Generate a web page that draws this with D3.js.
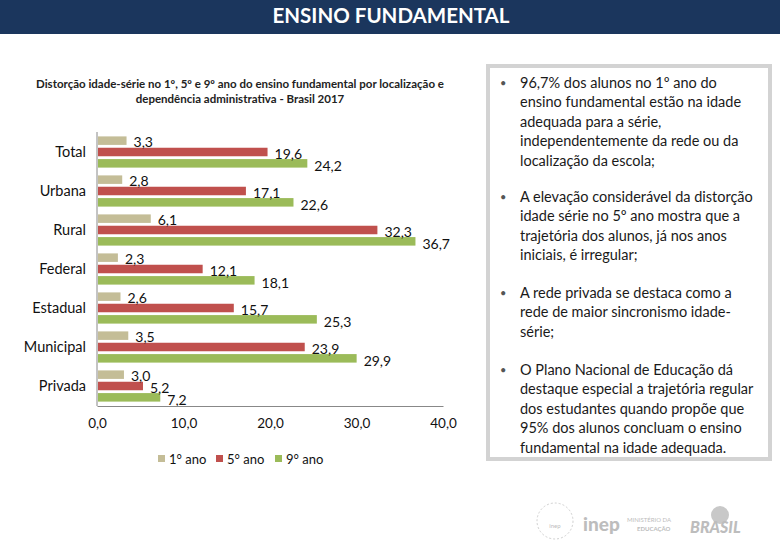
<!DOCTYPE html>
<html>
<head>
<meta charset="utf-8">
<script src="https://cdn.jsdelivr.net/npm/d3@7"></script>
<style>
  body { margin: 0; background: #fff; }
  svg { display: block; font-family: Lato, "Liberation Sans", sans-serif; }
</style>
</head>
<body>
<div id="chart"></div>
<script>
const categories = ["Total", "Urbana", "Rural", "Federal", "Estadual", "Municipal", "Privada"];
const seriesNames = ["1° ano", "5° ano", "9° ano"];
const ano1 = [3.3, 2.8, 6.1, 2.3, 2.6, 3.5, 3.0];
const ano5 = [19.6, 17.1, 32.3, 12.1, 15.7, 23.9, 5.2];
const ano9 = [24.2, 22.6, 36.7, 18.1, 25.3, 29.9, 7.2];
const xTicks = [0, 10, 20, 30, 40];
const colors = ["#c4bd97", "#c0504d", "#9bbb59"];

const bullets = [
  ["96,7% dos alunos no 1º ano do", "ensino fundamental estão na idade", "adequada para a série,", "independentemente da rede ou da", "localização da escola;"],
  ["A elevação considerável da distorção", "idade série no 5º ano mostra que a", "trajetória dos alunos, já nos anos", "iniciais, é irregular;"],
  ["A rede privada se destaca como a", "rede de maior sincronismo idade-", "série;"],
  ["O Plano Nacional de Educação dá", "destaque especial a trajetória regular", "dos estudantes quando propõe que", "95% dos alunos concluam o ensino", "fundamental na idade adequada."]
];

const W = 780, H = 540;
const svg = d3.select("#chart").append("svg").attr("width", W).attr("height", H);

// header band
svg.append("rect").attr("x", 0).attr("y", 0).attr("width", W).attr("height", 34).attr("fill", "#1b365d");
svg.append("text").attr("x", 391).attr("y", 23).attr("text-anchor", "middle")
  .attr("fill", "#fff").style("font-size", "20.5px").style("font-weight", "bold")
  .text("ENSINO FUNDAMENTAL");

// chart title
const title = svg.append("text").attr("text-anchor", "middle")
  .style("font-size", "11.5px").style("font-weight", "bold").attr("fill", "#222");
title.append("tspan").attr("x", 240).attr("y", 88)
  .text("Distorção idade-série no 1º, 5º e 9º ano do ensino fundamental por localização e");
title.append("tspan").attr("x", 240).attr("y", 103)
  .text("dependência administrativa - Brasil 2017");

// scales
const x = d3.scaleLinear().domain([0, 40]).range([97, 443]);
const y = d3.scaleBand().domain(categories).range([132.5, 405.5]).paddingInner(0.2).paddingOuter(0.1);
const ySub = d3.scaleBand().domain(d3.range(3)).range([0, y.bandwidth()]).paddingInner(0.25);

const rows = categories.map((c, i) => ({ cat: c, vals: [ano1[i], ano5[i], ano9[i]] }));

const g = svg.append("g");
const groups = g.selectAll(".grp").data(rows).join("g")
  .attr("transform", d => `translate(0,${y(d.cat)})`);

groups.selectAll("rect").data(d => d.vals).join("rect")
  .attr("x", x(0) + 1)
  .attr("y", (d, i) => ySub(i))
  .attr("width", d => x(d) - x(0))
  .attr("height", ySub.bandwidth())
  .attr("fill", (d, i) => colors[i]);

groups.selectAll("text").data(d => d.vals).join("text")
  .attr("x", d => x(d) + 8)
  .attr("y", (d, i) => ySub(i) + ySub.bandwidth() / 2 + 1 + i)
  .attr("dy", "0.35em")
  .style("font-size", "14px").attr("fill", "#111")
  .text(d => d3.format(".1f")(d).replace(".", ","));

// category labels
svg.append("g").selectAll("text").data(categories).join("text")
  .attr("x", 86).attr("y", d => y(d) + y.bandwidth() / 2)
  .attr("dy", "0.35em").attr("text-anchor", "end")
  .style("font-size", "14.5px").attr("fill", "#111")
  .text(d => d);

// axes lines
svg.append("line").attr("x1", x(0)).attr("x2", x(0)).attr("y1", 132).attr("y2", 406)
  .attr("stroke", "#888");
const xAxis = svg.append("g").attr("transform", "translate(0,406)")
  .call(d3.axisBottom(x).tickValues(xTicks).tickSize(0).tickPadding(12)
    .tickFormat(d => d3.format(".1f")(d).replace(".", ",")));
xAxis.select(".domain").attr("stroke", "#888");
xAxis.selectAll("text").style("font-size", "13.5px").attr("fill", "#111")
  .style("font-family", "Lato, sans-serif");

// legend
const legX = [158, 216, 275];
const leg = svg.append("g").selectAll("g").data(seriesNames).join("g")
  .attr("transform", (d, i) => `translate(${legX[i]},455)`);
leg.append("rect").attr("width", 7).attr("height", 7).attr("fill", (d, i) => colors[i]);
leg.append("text").attr("x", 11).attr("y", 4).attr("dy", "0.35em")
  .style("font-size", "13px").attr("fill", "#111").text(d => d);

// text box on right
svg.append("rect").attr("x", 488).attr("y", 66).attr("width", 282).attr("height", 393)
  .attr("fill", "#fff").attr("stroke", "#d3d3d3").attr("stroke-width", 4);

const starts = [83, 197, 293, 370];
bullets.forEach((lines, b) => {
  svg.append("text").attr("x", 500).attr("y", starts[b]).attr("dy", "0.35em")
    .style("font-size", "11px").attr("fill", "#555").text("•");
  const t = svg.append("text").style("font-size", "14.5px").attr("fill", "#1a1a1a");
  lines.forEach((ln, i) => {
    t.append("tspan").attr("x", 520).attr("y", starts[b] + i * 19.4).attr("dy", "0.35em").text(ln);
  });
});

// footer logos (faint)
const logo = svg.append("g").attr("fill", "#bdbdbd");
logo.append("circle").attr("cx", 555).attr("cy", 521).attr("r", 18)
  .attr("fill", "none").attr("stroke", "#d0d0d0").attr("stroke-dasharray", "2,2");
logo.append("text").attr("x", 555).attr("y", 528).attr("text-anchor", "middle")
  .style("font-size", "6px").text("inep");
logo.append("text").attr("x", 583).attr("y", 531).style("font-size", "19px")
  .style("font-weight", "900").text("inep");
logo.append("text").attr("x", 627).attr("y", 522).style("font-size", "6px").text("MINISTÉRIO DA");
logo.append("text").attr("x", 637).attr("y", 531).style("font-size", "6px")
  .style("font-weight", "bold").text("EDUCAÇÃO");
logo.append("circle").attr("cx", 720).attr("cy", 515).attr("r", 9).attr("fill", "#c8c8c8");
logo.append("text").attr("x", 690).attr("y", 533).style("font-size", "16px")
  .style("font-weight", "900").style("font-style", "italic").text("BRASIL");
</script>
</body>
</html>
